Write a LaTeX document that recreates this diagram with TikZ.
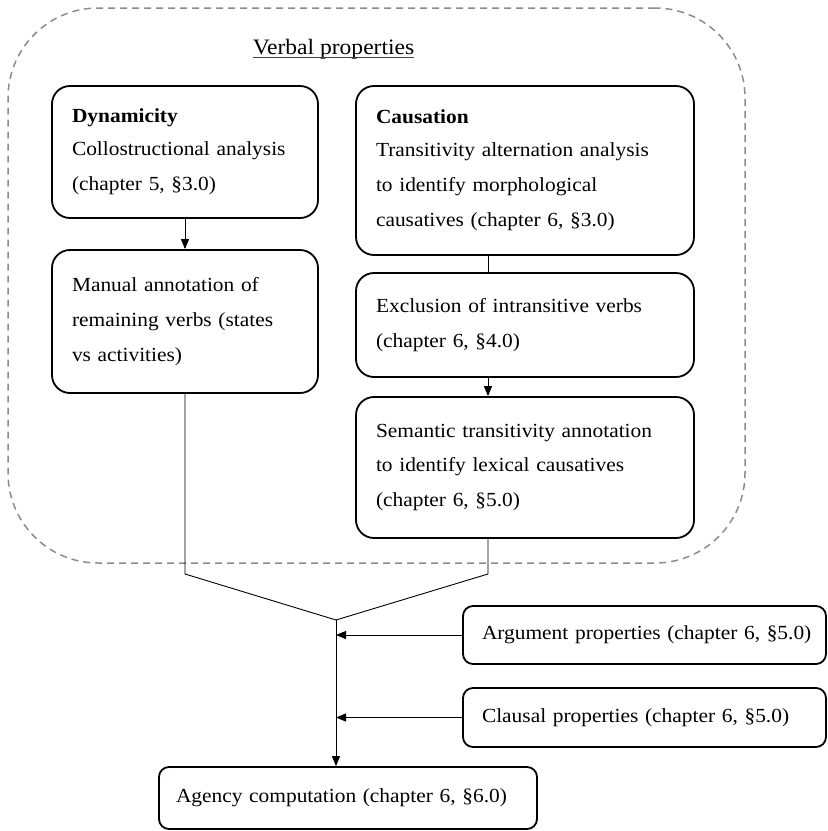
\documentclass[tikz,border=0pt]{standalone}
\usepackage{fontspec}
\setmainfont[FakeStretch=1.07]{Liberation Serif}
\usetikzlibrary{arrows.meta,calc}
\begin{document}
\begin{tikzpicture}[x=1pt,y=1pt,
  txt/.style={font=\fontsize{20}{35}\selectfont},
  bigbox/.style={txt, draw, line width=1.8pt, rounded corners=18pt, align=left, inner xsep=20pt, inner ysep=0pt},
  smallbox/.style={txt, draw, line width=1.8pt, rounded corners=10pt, align=left, inner xsep=19pt, inner ysep=0pt},
  conn/.style={line width=0.9pt},
  arr/.style={conn, -{Triangle[length=10pt,width=8pt]}},
  dashbox/.style={draw=black!45, line width=1.5pt, dash pattern=on 7pt off 5pt, rounded corners=90pt}
]
\useasboundingbox (0,0) rectangle (828,-831);

% outer dashed region
\node[dashbox, minimum width=737pt, minimum height=555pt] (vp) at (376.5,-285.5) {};
\node[font=\fontsize{22}{26}\selectfont, anchor=base, inner sep=0pt] (title) at (333.5,-54) {Verbal properties};
\draw[line width=1.3pt, black!75] ([yshift=-3.5pt]title.base west) -- ([yshift=-3.5pt]title.base east);

% left column
\node[bigbox, text width=226pt, minimum height=132pt] (dyn) at (185,-152)
  {\textbf{Dynamicity}\\[-2pt]Collostructional analysis\\(chapter 5, §3.0)};
\node[bigbox, text width=226pt, minimum height=143pt] (man) at (185,-321.5)
  {Manual annotation of\\remaining verbs (states\\vs activities)};

% right column
\node[bigbox, text width=298pt, minimum height=169pt] (cau) at (525,-170.5)
  {\textbf{Causation}\\[-2pt]Transitivity alternation analysis\\to identify morphological\\causatives (chapter 6, §3.0)};
\node[bigbox, text width=298pt, minimum height=104pt] (exc) at (525,-325)
  {Exclusion of intransitive verbs\\(chapter 6, §4.0)};
\node[bigbox, text width=298pt, minimum height=141pt] (sem) at (525,-467.5)
  {Semantic transitivity annotation\\to identify lexical causatives\\(chapter 6, §5.0)};

% bottom boxes
\node[smallbox, text width=325pt, minimum height=58pt] (arg) at (644.5,-635)
  {\mbox{Argument properties (chapter 6, §5.0)}};
\node[smallbox, text width=325pt, minimum height=59pt] (cla) at (644.5,-717.5)
  {\mbox{Clausal properties (chapter 6, §5.0)}};
\node[smallbox, inner xsep=17pt, text width=344pt, minimum height=62pt] (agy) at (348,-798)
  {\mbox{Agency computation (chapter 6, §6.0)}};

% helper coordinates
\coordinate (cx) at (488,0);
\coordinate (ml) at (185,-574);
\coordinate (mr) at (488,-574);
\coordinate (mg) at (336,-620);

% connectors
\draw[arr] (dyn.south) -- (man.north);
\draw[conn] (cx |- cau.south) -- (cx |- exc.north);
\draw[arr] (cx |- exc.south) -- (cx |- sem.north);
\draw[conn] (man.south) -- (ml) -- (mg) -- (mr) -- (cx |- sem.south);
\draw[arr] (mg) -- (mg |- agy.north);
\draw[arr] (arg.west) -- (arg.west -| mg);
\draw[arr] (cla.west) -- (cla.west -| mg);
\end{tikzpicture}
\end{document}
